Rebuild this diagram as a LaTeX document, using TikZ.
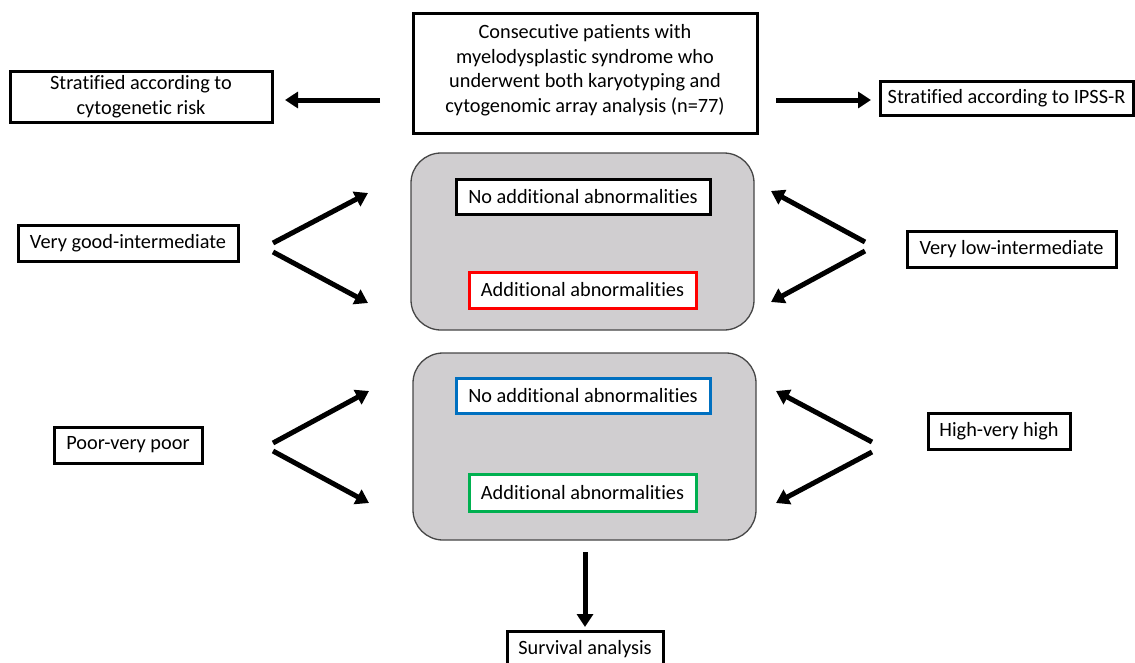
\documentclass[tikz,border=0pt]{standalone}
\usepackage{fontspec}
\setmainfont{Carlito}[Ligatures=NoCommon]
\usetikzlibrary{arrows.meta}
\definecolor{grayfill}{RGB}{208,206,208}
\definecolor{grayline}{RGB}{70,70,70}
\definecolor{myred}{RGB}{255,0,0}
\definecolor{myblue}{RGB}{0,112,192}
\definecolor{mygreen}{RGB}{0,176,80}
\begin{document}
\begin{tikzpicture}[x=1pt,y=-1pt,
  box/.style={draw=black,line width=3pt,fill=white,inner sep=0pt,align=center,
    font=\fontsize{20.3}{24.5}\selectfont},
  group/.style={draw=grayline,line width=1.3pt,fill=grayfill,rounded corners=30pt,inner sep=0pt},
  arr/.style={line width=5pt,-{Triangle[length=13pt,width=16pt]}}]
\useasboundingbox (0,0) rectangle (1135,662);

% top row
\node[box,minimum width=344pt,minimum height=120pt] (top) at (585,73) {};
\node[align=center,inner sep=0pt,font=\fontsize{20.3}{24.5}\selectfont] (toptext) at (585,70)
  {Consecutive patients with\\myelodysplastic syndrome who\\underwent both karyotyping and\\cytogenomic array analysis (n=77)};
\node[box,minimum width=262pt,minimum height=51pt] (cyto) at (141,96.5)
  {Stratified according to\\cytogenetic risk};
\node[box,minimum width=253pt,minimum height=34pt] (ipss) at (1006.5,98)
  {Stratified according to IPSS-R};

% group boxes
\node[group,minimum width=343pt,minimum height=177pt] (g1) at (582.5,241.5) {};
\node[group,minimum width=343pt,minimum height=187pt] (g2) at (584.5,446.5) {};

\node[box,minimum width=254pt,minimum height=35pt] (n1) at (583,196.5) {No additional abnormalities};
\node[box,draw=myred,minimum width=227pt,minimum height=36pt] (a1) at (582.5,290) {Additional abnormalities};
\node[box,draw=myblue,minimum width=254pt,minimum height=35pt] (n2) at (583,395.5) {No additional abnormalities};
\node[box,draw=mygreen,minimum width=227pt,minimum height=37pt] (a2) at (582.5,492.5) {Additional abnormalities};

% side boxes
\node[box,minimum width=220pt,minimum height=36pt] (vgi) at (128,243) {Very good-intermediate};
\node[box,minimum width=209pt,minimum height=36pt] (vli) at (1011.5,249) {Very low-intermediate};
\node[box,minimum width=148pt,minimum height=36pt] (pvp) at (128,445) {Poor-very poor};
\node[box,minimum width=142pt,minimum height=36pt] (hvh) at (999,431) {High-very high};

% survival
\node[box,minimum width=156pt,minimum height=36pt] (surv) at (585,649) {Survival analysis};

% arrow end points
\coordinate (tL1) at (380,100);  \coordinate (tL2) at (285,100);
\coordinate (tR1) at (776,100);  \coordinate (tR2) at (871,100);
\coordinate (l1s) at (273,243);  \coordinate (l1a) at (368,193);
\coordinate (l1t) at (273,252);  \coordinate (l1b) at (368,303);
\coordinate (r1s) at (865,242);  \coordinate (r1a) at (771,191);
\coordinate (r1t) at (865,251);  \coordinate (r1b) at (771,302);
\coordinate (l2s) at (273,443);  \coordinate (l2a) at (369,391);
\coordinate (l2t) at (273,451);  \coordinate (l2b) at (369,503);
\coordinate (r2s) at (872,442);  \coordinate (r2a) at (776,391);
\coordinate (r2t) at (872,452);  \coordinate (r2b) at (776,503);
\coordinate (ds) at (585,552);   \coordinate (de) at (585,627);

\draw[arr] (tL1) -- (tL2);
\draw[arr] (tR1) -- (tR2);
\draw[arr] (l1s) -- (l1a);
\draw[arr] (l1t) -- (l1b);
\draw[arr] (r1s) -- (r1a);
\draw[arr] (r1t) -- (r1b);
\draw[arr] (l2s) -- (l2a);
\draw[arr] (l2t) -- (l2b);
\draw[arr] (r2s) -- (r2a);
\draw[arr] (r2t) -- (r2b);
\draw[arr] (ds) -- (de);
\end{tikzpicture}
\end{document}
